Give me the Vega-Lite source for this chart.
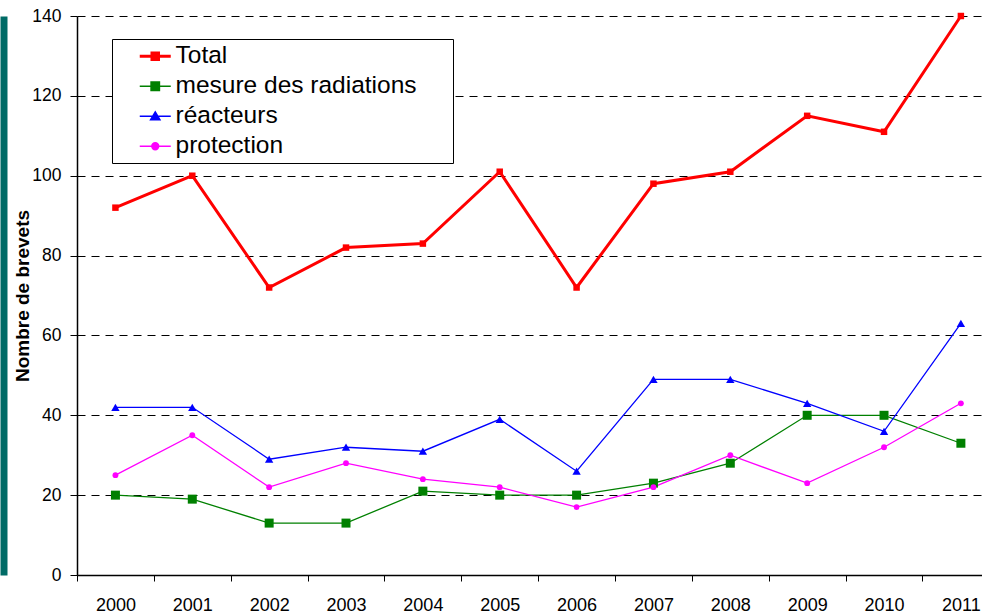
{
  "$schema": "https://vega.github.io/schema/vega-lite/v6.json",
  "autosize": {"type": "none"},
  "padding": {"left": 77, "top": 16, "right": 0, "bottom": 39},
  "width": 905,
  "height": 559,
  "background": "#ffffff",
  "config": {
    "view": {"stroke": null},
    "font": "Liberation Sans",
    "axis": {"labelColor": "#000000", "tickColor": "#000000", "domainColor": "#000000", "titleColor": "#000000"}
  },
  "data": {
    "values": [
      {"year": 2000, "series": "Total", "value": 92},
      {"year": 2001, "series": "Total", "value": 100},
      {"year": 2002, "series": "Total", "value": 72},
      {"year": 2003, "series": "Total", "value": 82},
      {"year": 2004, "series": "Total", "value": 83},
      {"year": 2005, "series": "Total", "value": 101},
      {"year": 2006, "series": "Total", "value": 72},
      {"year": 2007, "series": "Total", "value": 98},
      {"year": 2008, "series": "Total", "value": 101},
      {"year": 2009, "series": "Total", "value": 115},
      {"year": 2010, "series": "Total", "value": 111},
      {"year": 2011, "series": "Total", "value": 140},
      {"year": 2000, "series": "mesure des radiations", "value": 20},
      {"year": 2001, "series": "mesure des radiations", "value": 19},
      {"year": 2002, "series": "mesure des radiations", "value": 13},
      {"year": 2003, "series": "mesure des radiations", "value": 13},
      {"year": 2004, "series": "mesure des radiations", "value": 21},
      {"year": 2005, "series": "mesure des radiations", "value": 20},
      {"year": 2006, "series": "mesure des radiations", "value": 20},
      {"year": 2007, "series": "mesure des radiations", "value": 23},
      {"year": 2008, "series": "mesure des radiations", "value": 28},
      {"year": 2009, "series": "mesure des radiations", "value": 40},
      {"year": 2010, "series": "mesure des radiations", "value": 40},
      {"year": 2011, "series": "mesure des radiations", "value": 33},
      {"year": 2000, "series": "réacteurs", "value": 42},
      {"year": 2001, "series": "réacteurs", "value": 42},
      {"year": 2002, "series": "réacteurs", "value": 29},
      {"year": 2003, "series": "réacteurs", "value": 32},
      {"year": 2004, "series": "réacteurs", "value": 31},
      {"year": 2005, "series": "réacteurs", "value": 39},
      {"year": 2006, "series": "réacteurs", "value": 26},
      {"year": 2007, "series": "réacteurs", "value": 49},
      {"year": 2008, "series": "réacteurs", "value": 49},
      {"year": 2009, "series": "réacteurs", "value": 43},
      {"year": 2010, "series": "réacteurs", "value": 36},
      {"year": 2011, "series": "réacteurs", "value": 63},
      {"year": 2000, "series": "protection", "value": 25},
      {"year": 2001, "series": "protection", "value": 35},
      {"year": 2002, "series": "protection", "value": 22},
      {"year": 2003, "series": "protection", "value": 28},
      {"year": 2004, "series": "protection", "value": 24},
      {"year": 2005, "series": "protection", "value": 22},
      {"year": 2006, "series": "protection", "value": 17},
      {"year": 2007, "series": "protection", "value": 22},
      {"year": 2008, "series": "protection", "value": 30},
      {"year": 2009, "series": "protection", "value": 23},
      {"year": 2010, "series": "protection", "value": 32},
      {"year": 2011, "series": "protection", "value": 43}
    ]
  },
  "encoding": {
    "x": {
      "field": "year",
      "type": "quantitative",
      "scale": {"domain": [1999.5, 2011.2747], "nice": false, "zero": false},
      "axis": {
        "title": null,
        "values": [2000, 2001, 2002, 2003, 2004, 2005, 2006, 2007, 2008, 2009, 2010, 2011],
        "format": "d",
        "grid": false,
        "labelFontSize": 18,
        "labelPadding": 15,
        "tickSize": 6,
        "tickWidth": 1,
        "domainWidth": 1.5,
        "tickOffset": -38.43,
        "labelOffset": 38.43,
        "labelFlush": false,
        "labelOverlap": false,
        "labelBound": false
      }
    },
    "color": {
      "field": "series",
      "type": "nominal",
      "scale": {
        "domain": ["Total", "mesure des radiations", "réacteurs", "protection"],
        "range": ["#ff0000", "#008000", "#0000ff", "#ff00ff"]
      },
      "legend": {
        "orient": "none",
        "legendX": 35,
        "legendY": 23,
        "title": null,
        "padding": 5,
        "symbolOffset": 26,
        "labelOffset": 8,
        "rowPadding": 5,
        "symbolSize": 961,
        "labelFontSize": 24.5,
        "labelFont": "Liberation Sans",
        "labelColor": "#000000",
        "labelLimit": 500,
        "strokeColor": "#000000",
        "fillColor": "#ffffff",
        "labelExpr": "datum.label + '\u2002\u2002\u00a0\u200b'",
        "encode": {
          "symbols": {
            "update": {
              "shape": {"signal": "datum.value === 'Total' ? 'M-1,0H1M-0.21,-0.21H0.21V0.21H-0.21Z' : datum.value === 'mesure des radiations' ? 'M-1,0H1M-0.27,-0.27H0.27V0.27H-0.27Z' : datum.value === 'réacteurs' ? 'M-1,0H1M0,-0.28L0.3,0.22H-0.3Z' : 'M-1,0H1M-0.22,0A0.22,0.22,0,1,0,0.22,0A0.22,0.22,0,1,0,-0.22,0Z'"},
              "fill": {"signal": "datum.value === 'Total' ? '#ff0000' : datum.value === 'mesure des radiations' ? '#008000' : datum.value === 'réacteurs' ? '#0000ff' : '#ff00ff'"},
              "stroke": {"signal": "datum.value === 'Total' ? '#ff0000' : datum.value === 'mesure des radiations' ? '#008000' : datum.value === 'réacteurs' ? '#0000ff' : '#ff00ff'"},
              "strokeWidth": {"signal": "datum.value === 'Total' ? 3 : 1.5"},
              "opacity": {"value": 1},
              "fillOpacity": {"value": 1},
              "strokeOpacity": {"value": 1}
            }
          }
        }
      }
    }
  },
  "layer": [
    {
      "transform": [{"filter": "datum.series === 'Total'"}],
      "mark": {"type": "line", "strokeWidth": 3},
      "encoding": {
        "y": {
          "field": "value",
          "type": "quantitative",
          "scale": {"domain": [0, 140], "nice": false},
          "axis": {
            "title": "Nombre de brevets",
            "titleFontSize": 19,
            "titleFontWeight": "bold",
            "titleX": -49,
            "titleBaseline": "alphabetic",
            "values": [0, 20, 40, 60, 80, 100, 120, 140],
            "labelFontSize": 17.5,
            "labelPadding": 9,
            "tickSize": 7,
            "tickWidth": 1,
            "domainWidth": 1.5,
            "grid": true,
            "gridColor": "#000000",
            "gridWidth": 1,
            "gridDash": [8, 6],
            "gridOpacity": 1
          }
        }
      }
    },
    {
      "transform": [{"filter": "datum.series !== 'Total'"}],
      "mark": {"type": "line", "strokeWidth": 1.3},
      "encoding": {
        "y": {
          "field": "value",
          "type": "quantitative",
          "scale": {"domain": [0, 140], "nice": false},
          "axis": {
            "orient": "left",
            "offset": 73.5,
            "domainWidth": 7,
            "domainColor": "#006b66",
            "ticks": false,
            "labels": false,
            "grid": false,
            "title": null
          }
        }
      }
    },
    {
      "transform": [{"filter": "datum.series === 'Total'"}],
      "mark": {"type": "point", "filled": true, "opacity": 1, "shape": "square", "size": 42},
      "encoding": {
        "y": {"field": "value", "type": "quantitative", "scale": {"domain": [0, 140], "nice": false}, "axis": null}
      }
    },
    {
      "transform": [{"filter": "datum.series === 'mesure des radiations'"}],
      "mark": {"type": "point", "filled": true, "opacity": 1, "shape": "square", "size": 81},
      "encoding": {
        "y": {"field": "value", "type": "quantitative", "scale": {"domain": [0, 140], "nice": false}, "axis": null}
      }
    },
    {
      "transform": [{"filter": "datum.series === 'réacteurs'"}],
      "mark": {"type": "point", "filled": true, "opacity": 1, "shape": "triangle-up", "size": 70},
      "encoding": {
        "y": {"field": "value", "type": "quantitative", "scale": {"domain": [0, 140], "nice": false}, "axis": null}
      }
    },
    {
      "transform": [{"filter": "datum.series === 'protection'"}],
      "mark": {"type": "point", "filled": true, "opacity": 1, "shape": "circle", "size": 34},
      "encoding": {
        "y": {"field": "value", "type": "quantitative", "scale": {"domain": [0, 140], "nice": false}, "axis": null}
      }
    }
  ],
  "resolve": {"scale": {"y": "independent"}, "axis": {"y": "independent"}}
}
